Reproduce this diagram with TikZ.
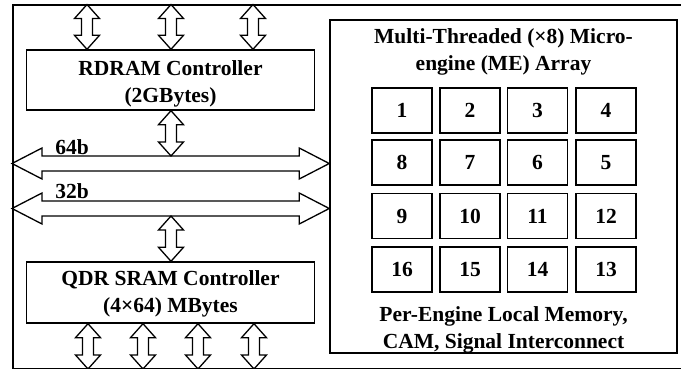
\documentclass[tikz,border=0pt]{standalone}
\usepackage{fontspec}
\setmainfont{Liberation Serif}
\usetikzlibrary{calc}

% Hollow double-headed arrow between two points:
% #1,#2 end points, #3 head length, #4 shaft half width, #5 head half width
\newcommand\fatarrow[5]{%
  \draw[arrowbody] (#1)
    -- ($(#1)!#3!(#2)!#5!90:(#2)$)
    -- ($(#1)!#3!(#2)!#4!90:(#2)$)
    -- ($(#2)!#3!(#1)!#4!-90:(#1)$)
    -- ($(#2)!#3!(#1)!#5!-90:(#1)$)
    -- (#2)
    -- ($(#2)!#3!(#1)!#5!90:(#1)$)
    -- ($(#2)!#3!(#1)!#4!90:(#1)$)
    -- ($(#1)!#3!(#2)!#4!-90:(#2)$)
    -- ($(#1)!#3!(#2)!#5!-90:(#2)$)
    -- cycle;}

\tikzset{
  arrowbody/.style={draw=black, fill=white, line width=1.3pt, line join=miter},
  lbl/.style={font=\fontsize{21.5}{27}\selectfont\bfseries, align=center, inner sep=0pt},
  ctrl/.style={draw, line width=1.4pt, minimum width=288pt, minimum height=60pt, inner sep=0pt},
  cell/.style={draw, line width=1.4pt, minimum width=60pt, minimum height=45pt,
    font=\fontsize{21.5}{25}\selectfont\bfseries, inner sep=0pt},
}

\begin{document}
\begin{tikzpicture}[x=1pt,y=-1pt]
\useasboundingbox (0,0) rectangle (681,369);

% outer chip frame (right side runs past the edge)
\node[draw, line width=1.5pt, minimum width=690pt, minimum height=363pt,
  anchor=north west, inner sep=0pt] (frame) at (12,4.5) {};

% memory controllers
\node[ctrl] (rd) at (170.5,80) {};
\node[lbl, text depth=0pt] (rdtext) at (170.5,82) {RDRAM Controller\\(2GBytes)};
\node[ctrl, minimum height=61pt] (qdr) at (170.5,292.5) {};
\node[lbl] (qdrtext) at (170.5,294) {QDR SRAM Controller\\(4×64) MBytes};

% microengine array
\node[draw, line width=1.5pt, minimum width=347pt, minimum height=333pt,
  inner sep=0pt] (me) at (503.5,186.5) {};
\node[lbl] (metitle) at (503.5,52) {Multi-Threaded (×8) Micro-\\engine (ME) Array};
\node[lbl] (mefoot) at (503.5,330) {Per-Engine Local Memory,\\CAM, Signal Interconnect};

\foreach \n/\x/\y in {1/402/110.5, 2/470/110.5, 3/537.5/110.5, 4/606/110.5,
                      8/402/162.5, 7/470/162.5, 6/537.5/162.5, 5/606/162.5,
                      9/402/216, 10/470/216, 11/537.5/216, 12/606/216,
                      16/402/269.5, 15/470/269.5, 14/537.5/269.5, 13/606/269.5}
  \node[cell] (me\n) at (\x,\y) {\n};

% internal buses
\coordinate (b64l) at (frame.west |- 0,163.5);
\coordinate (b64r) at (me.west |- 0,163.5);
\coordinate (b32l) at (frame.west |- 0,208.5);
\coordinate (b32r) at (me.west |- 0,208.5);
\fatarrow{b64l}{b64r}{30pt}{7.5pt}{15.5pt}
\fatarrow{b32l}{b32r}{30pt}{7.5pt}{15.5pt}
\node[lbl] (l64) at (72,147) {64b};
\node[lbl] (l32) at (72,191) {32b};

% RDRAM channels
\foreach \x [count=\i] in {87,171,253} {
  \coordinate (rt\i) at (\x,0 |- frame.north);
  \coordinate (rb\i) at (\x,0 |- rd.north);
  \fatarrow{rt\i}{rb\i}{14pt}{5.5pt}{12.5pt}
}
\coordinate (rdout) at (171,0 |- rd.south);
\coordinate (bus64top) at (171,156);
\fatarrow{rdout}{bus64top}{14pt}{5.5pt}{12.5pt}

% QDR SRAM channels
\coordinate (bus32bot) at (171,216);
\coordinate (qdrin) at (171,0 |- qdr.north);
\fatarrow{bus32bot}{qdrin}{14pt}{5.5pt}{12.5pt}
\foreach \x [count=\i] in {88,143,198,254} {
  \coordinate (qt\i) at (\x,0 |- qdr.south);
  \coordinate (qb\i) at (\x,0 |- frame.south);
  \fatarrow{qt\i}{qb\i}{14pt}{5.5pt}{12.5pt}
}
\end{tikzpicture}
\end{document}
